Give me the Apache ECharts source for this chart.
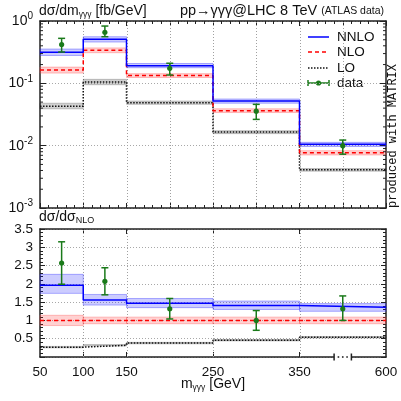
<!DOCTYPE html>
<html>
<head>
<meta charset="utf-8">
<script src="https://cdn.jsdelivr.net/npm/echarts@6/dist/echarts.min.js"></script>
<style>html,body{margin:0;background:#fff}#c{width:401px;height:401px}</style>
</head>
<body>
<div id="c"></div>
<script>
// bin edges [GeV]; the last bin 350-600 is drawn squeezed to 100 GeV width
var edges = [50, 100, 150, 250, 350, 600];

// dsigma/dm [fb/GeV]
var nnlo   = [0.314, 0.508, 0.192, 0.052, 0.0105];
var nnloLo = [0.280, 0.460, 0.178, 0.048, 0.0097];
var nnloHi = [0.355, 0.560, 0.208, 0.056, 0.0113];
var nlo    = [0.164, 0.339, 0.133, 0.0363, 0.0077];
var nloLo  = [0.146, 0.310, 0.124, 0.0340, 0.0071];
var nloHi  = [0.182, 0.370, 0.143, 0.0390, 0.0083];
var lo     = [0.043, 0.105, 0.049, 0.0165, 0.0041];
var loLo   = [0.039, 0.095, 0.046, 0.0156, 0.0039];
var loHi   = [0.048, 0.116, 0.052, 0.0174, 0.0043];
var dat    = [0.42, 0.66, 0.174, 0.0358, 0.0100];
var datLo  = [0.318, 0.56, 0.136, 0.0264, 0.0073];
var datHi  = [0.527, 0.83, 0.210, 0.046, 0.0123];

// ratio to NLO
var rNnlo   = [1.96, 1.56, 1.47, 1.41, 1.36];
var rNnloLo = [1.74, 1.42, 1.35, 1.30, 1.25];
var rNnloHi = [2.26, 1.71, 1.60, 1.53, 1.46];
var rNlo    = [1, 1, 1, 1, 1];
var rNloLo  = [0.86, 0.91, 0.91, 0.91, 0.91];
var rNloHi  = [1.14, 1.09, 1.09, 1.09, 1.09];
var rLo     = [0.27, 0.32, 0.38, 0.46, 0.54];
var rLoLo   = [0.25, 0.30, 0.36, 0.44, 0.52];
var rLoHi   = [0.29, 0.34, 0.40, 0.48, 0.56];
var rDat    = [2.57, 2.07, 1.32, 1.00, 1.32];
var rDatLo  = [1.99, 1.70, 1.04, 0.73, 1.00];
var rDatHi  = [3.15, 2.44, 1.60, 1.27, 1.67];

var xLabels = {50: '50', 100: '100', 150: '150', 250: '250', 350: '350', 450: '600'};
var topGridX = [100, 150, 200, 250, 300, 350, 400];
var lowGridX = [100, 150, 250, 350];

var BLUE = '#0000ff', RED = '#ff0000', GREEN = '#1a7a1a', FRAME = '#222';

function disp(x) { return x <= 350 ? x : 350 + (x - 350) * 100 / 250; }
var dEdges = edges.map(disp);
var centers = dEdges.slice(1).map(function (e, i) { return (e + dEdges[i]) / 2; });

function stepData(v) {
  var pts = v.map(function (y, i) { return [dEdges[i], y]; });
  pts.push([dEdges[dEdges.length - 1], v[v.length - 1]]);
  return pts;
}

function stepLine(v, color, type, g) {
  return {
    type: 'line', xAxisIndex: g * 2, yAxisIndex: g * 2, step: 'end', symbol: 'none',
    data: stepData(v), z: 5, silent: true,
    lineStyle: { color: color, width: 1.5, type: type }
  };
}

function band(l, h, color, edge, g) {
  return {
    type: 'custom', xAxisIndex: g * 2, yAxisIndex: g * 2, z: 2, silent: true,
    data: l.map(function (v, i) { return [dEdges[i], dEdges[i + 1], v, h[i]]; }),
    encode: { x: [0, 1], y: [2, 3] },
    renderItem: function (params, api) {
      var a = api.coord([api.value(0), api.value(3)]);
      var b = api.coord([api.value(1), api.value(2)]);
      return { type: 'rect', shape: { x: a[0], y: a[1], width: b[0] - a[0], height: b[1] - a[1] },
        style: { fill: color, stroke: edge, lineWidth: 0.8 } };
    }
  };
}

function errBars(v, l, h, g) {
  return {
    type: 'custom', xAxisIndex: g * 2, yAxisIndex: g * 2, z: 8, silent: true,
    data: v.map(function (y, i) { return [centers[i], y, l[i], h[i]]; }),
    encode: { x: 0, y: [1, 2, 3] },
    renderItem: function (params, api) {
      var c = api.coord([api.value(0), api.value(1)]);
      var b = api.coord([api.value(0), api.value(2)]);
      var t = api.coord([api.value(0), api.value(3)]);
      var st = { stroke: GREEN, lineWidth: 1.5 };
      return { type: 'group', children: [
        { type: 'line', shape: { x1: c[0], y1: t[1], x2: c[0], y2: b[1] }, style: st },
        { type: 'line', shape: { x1: c[0] - 3.5, y1: t[1], x2: c[0] + 3.5, y2: t[1] }, style: st },
        { type: 'line', shape: { x1: c[0] - 3.5, y1: b[1], x2: c[0] + 3.5, y2: b[1] }, style: st },
        { type: 'circle', shape: { cx: c[0], cy: c[1], r: 2.6 }, style: { fill: GREEN } }
      ] };
    }
  };
}

// dotted vertical grid lines, drawn through the x scale (as short dot segments)
function vGrid(xs, g) {
  var yMid = g ? 1 : 0.1;
  return {
    type: 'custom', xAxisIndex: g * 2, yAxisIndex: g * 2, z: 1, silent: true, clip: false,
    data: xs.map(function (x) { return [x, yMid]; }), encode: { x: 0, y: 1 },
    renderItem: function (params, api) {
      var x = Math.round(api.coord([api.value(0), api.value(1)])[0]);
      var cs = params.coordSys;
      var ch = [];
      for (var y = cs.y + 1; y < cs.y + cs.height; y += 3) {
        ch.push({ type: 'rect', shape: { x: x, y: Math.round(y), width: 1, height: 1 }, style: { fill: '#a0a0a0' } });
      }
      return { type: 'group', children: ch };
    }
  };
}

// log minor ticks (2..9 per decade) on both sides of the upper panel
var logMinor = [];
[0.001, 0.01, 0.1].forEach(function (d) {
  for (var k = 2; k <= 9; k++) logMinor.push([50, k * d]);
});
var minorSeries = {
  type: 'custom', xAxisIndex: 0, yAxisIndex: 0, silent: true, z: 10, clip: false,
  data: logMinor, encode: { x: 0, y: 1 },
  renderItem: function (params, api) {
    var y = api.coord([50, api.value(1)])[1];
    var cs = params.coordSys;
    var st = { stroke: FRAME, lineWidth: 1 };
    return { type: 'group', children: [
      { type: 'line', shape: { x1: cs.x, y1: y, x2: cs.x + 3, y2: y }, style: st },
      { type: 'line', shape: { x1: cs.x + cs.width - 3, y1: y, x2: cs.x + cs.width, y2: y }, style: st }
    ] };
  }
};

// axis break marker on the lower x axis
var breakSeries = {
  type: 'custom', xAxisIndex: 2, yAxisIndex: 2, silent: true, z: 10, clip: false,
  data: [[390, 410, 1]], encode: { x: [0, 1], y: 2 },
  renderItem: function (params, api) {
    var a = api.coord([api.value(0), 1]);
    var b = api.coord([api.value(1), 1]);
    var y = params.coordSys.y + params.coordSys.height;
    var st = { stroke: FRAME, lineWidth: 1.5 };
    var ch = [
      { type: 'rect', shape: { x: a[0], y: y - 2, width: b[0] - a[0], height: 4 }, style: { fill: '#fff' } },
      { type: 'line', shape: { x1: a[0], y1: y - 3.5, x2: a[0], y2: y + 3.5 }, style: st },
      { type: 'line', shape: { x1: b[0], y1: y - 3.5, x2: b[0], y2: y + 3.5 }, style: st }
    ];
    for (var k = 1; k <= 3; k++) {
      var x = a[0] + (b[0] - a[0]) * k / 4;
      ch.push({ type: 'rect', shape: { x: x - 0.8, y: y - 0.8, width: 1.6, height: 1.6 }, style: { fill: FRAME } });
    }
    return { type: 'group', children: ch };
  }
};

var dotted = { show: true, lineStyle: { color: '#a8a8a8', type: [1, 2], width: 1 } };
var axLine = { show: true, onZero: false, lineStyle: { color: FRAME, width: 1.5 } };
var lbl = { fontFamily: 'Liberation Sans', fontSize: 13.5, color: '#111' };

function xAx(g, pos, opts) {
  return Object.assign({
    type: 'value', gridIndex: g, position: pos, min: 50, max: 450, interval: 50,
    axisLine: axLine, axisLabel: { show: false },
    axisTick: { show: true, inside: true, length: 5, lineStyle: { color: FRAME, width: 1 } },
    splitLine: { show: false }
  }, opts);
}

var option = {
  animation: false,
  grid: [
    { left: 40, right: 15, top: 21, height: 187 },
    { left: 40, right: 15, top: 229, height: 128 }
  ],
  xAxis: [
    xAx(0, 'bottom', { minorTick: { show: true, splitNumber: 5, length: 3, lineStyle: { color: FRAME } } }),
    xAx(0, 'top', { minorTick: { show: true, splitNumber: 5, length: 3, lineStyle: { color: FRAME } } }),
    xAx(1, 'bottom', {
      axisTick: { show: true, inside: true, length: 5, customValues: lowGridX, lineStyle: { color: FRAME } },
      axisLabel: Object.assign({ show: true, margin: 8, customValues: [50, 100, 150, 250, 350, 450],
        formatter: function (v) { return xLabels[v] || ''; } }, lbl)
    }),
    xAx(1, 'top', {
      axisTick: { show: true, inside: true, length: 5, customValues: lowGridX, lineStyle: { color: FRAME } }
    })
  ],
  yAxis: [
    {
      type: 'log', gridIndex: 0, position: 'left', min: 0.001, max: 1, logBase: 10,
      axisLine: axLine, splitLine: dotted,
      axisTick: { show: true, inside: true, length: 6, lineStyle: { color: FRAME } },
      axisLabel: {
        margin: 7,
        formatter: function (v) { return '{b|10}{s|' + Math.round(Math.log10(v)) + '}'; },
        rich: {
          b: { fontFamily: 'Liberation Sans', fontSize: 14, color: '#111' },
          s: { fontFamily: 'Liberation Sans', fontSize: 10, color: '#111', padding: [0, 0, 9, 0] }
        }
      }
    },
    {
      type: 'log', gridIndex: 0, position: 'right', min: 0.001, max: 1, logBase: 10,
      axisLine: axLine, splitLine: { show: false }, axisLabel: { show: false },
      axisTick: { show: true, inside: true, length: 6, lineStyle: { color: FRAME } }
    },
    {
      type: 'value', gridIndex: 1, position: 'left', min: 0, max: 3.5, interval: 0.5,
      axisLine: axLine, splitLine: dotted,
      axisTick: { show: true, inside: true, length: 5, lineStyle: { color: FRAME } },
      minorTick: { show: true, splitNumber: 5, length: 3, lineStyle: { color: FRAME } },
      axisLabel: Object.assign({ margin: 7, formatter: function (v) { return v === 0 ? '' : String(v); } }, lbl)
    },
    {
      type: 'value', gridIndex: 1, position: 'right', min: 0, max: 3.5, interval: 0.5,
      axisLine: axLine, splitLine: { show: false }, axisLabel: { show: false },
      axisTick: { show: true, inside: true, length: 5, lineStyle: { color: FRAME } },
      minorTick: { show: true, splitNumber: 5, length: 3, lineStyle: { color: FRAME } }
    }
  ],
  series: [
    vGrid(topGridX, 0),
    vGrid(lowGridX, 1),
    band(loLo, loHi, 'rgba(0,0,0,0.18)', 'rgba(0,0,0,0.25)', 0),
    band(nloLo, nloHi, 'rgba(255,0,0,0.18)', 'rgba(255,80,80,0.45)', 0),
    band(nnloLo, nnloHi, 'rgba(0,0,255,0.20)', 'rgba(60,60,255,0.5)', 0),
    stepLine(lo, '#111', [1.5, 1.5], 0),
    stepLine(nlo, RED, [4, 3], 0),
    stepLine(nnlo, BLUE, 'solid', 0),
    errBars(dat, datLo, datHi, 0),
    band(rLoLo, rLoHi, 'rgba(0,0,0,0.18)', 'rgba(0,0,0,0.25)', 1),
    band(rNloLo, rNloHi, 'rgba(255,0,0,0.18)', 'rgba(255,80,80,0.45)', 1),
    band(rNnloLo, rNnloHi, 'rgba(0,0,255,0.20)', 'rgba(60,60,255,0.5)', 1),
    stepLine(rLo, '#111', [1.5, 1.5], 1),
    stepLine(rNlo, RED, [4, 3], 1),
    stepLine(rNnlo, BLUE, 'solid', 1),
    errBars(rDat, rDatLo, rDatHi, 1),
    minorSeries,
    breakSeries
  ],
  graphic: [
    { type: 'text', x: 39, y: 11, style: { text: 'dσ/dm{sub|γγγ} [fb/GeV]', verticalAlign: 'middle',
      font: '14px "Liberation Sans"', fill: '#111',
      rich: { sub: { fontFamily: 'Liberation Sans', fontSize: 8.5, fill: '#111', padding: [7, 0, 0, 0] } } } },
    { type: 'text', x: 384, y: 11, style: { text: 'pp→γγγ@LHC 8 TeV {s|(ATLAS data)}', align: 'right', verticalAlign: 'middle',
      font: '14.5px "Liberation Sans"', fill: '#111',
      rich: { s: { fontFamily: 'Liberation Sans', fontSize: 10.5, fill: '#111' } } } },
    { type: 'text', x: 39, y: 217, style: { text: 'dσ/dσ{sub|NLO}', verticalAlign: 'middle',
      font: '14px "Liberation Sans"', fill: '#111',
      rich: { sub: { fontFamily: 'Liberation Sans', fontSize: 9, fill: '#111', padding: [7, 0, 0, 0] } } } },
    { type: 'text', x: 213, y: 384, style: { text: 'm{sub|γγγ} [GeV]', align: 'center', verticalAlign: 'middle',
      font: '14px "Liberation Sans"', fill: '#111',
      rich: { sub: { fontFamily: 'Liberation Sans', fontSize: 8.5, fill: '#111', padding: [7, 0, 0, 0] } } } },
    { type: 'text', x: 393, y: 136, rotation: Math.PI / 2, style: { text: 'produced with MATRIX', align: 'center', verticalAlign: 'middle',
      font: '12px "Liberation Mono"', fill: '#111' } },
    // legend
    { type: 'line', shape: { x1: 308, y1: 37, x2: 329, y2: 37 }, style: { stroke: BLUE, lineWidth: 1.5 } },
    { type: 'line', shape: { x1: 308, y1: 52, x2: 329, y2: 52 }, style: { stroke: RED, lineWidth: 1.5, lineDash: [4, 3] } },
    { type: 'line', shape: { x1: 308, y1: 68, x2: 329, y2: 68 }, style: { stroke: '#111', lineWidth: 1.5, lineDash: [1.5, 1.5] } },
    { type: 'line', shape: { x1: 308, y1: 83, x2: 329, y2: 83 }, style: { stroke: GREEN, lineWidth: 1.5 } },
    { type: 'line', shape: { x1: 308, y1: 80, x2: 308, y2: 86 }, style: { stroke: GREEN, lineWidth: 1.5 } },
    { type: 'line', shape: { x1: 329, y1: 80, x2: 329, y2: 86 }, style: { stroke: GREEN, lineWidth: 1.5 } },
    { type: 'circle', shape: { cx: 318.5, cy: 83, r: 2.6 }, style: { fill: GREEN } },
    { type: 'text', x: 337, y: 37, style: { text: 'NNLO', verticalAlign: 'middle', font: '13.5px "Liberation Sans"', fill: '#111' } },
    { type: 'text', x: 337, y: 52, style: { text: 'NLO', verticalAlign: 'middle', font: '13.5px "Liberation Sans"', fill: '#111' } },
    { type: 'text', x: 337, y: 68, style: { text: 'LO', verticalAlign: 'middle', font: '13.5px "Liberation Sans"', fill: '#111' } },
    { type: 'text', x: 337, y: 83, style: { text: 'data', verticalAlign: 'middle', font: '13.5px "Liberation Sans"', fill: '#111' } }
  ]
};

var chart = echarts.init(document.getElementById('c'), null, { renderer: 'canvas' });
chart.setOption(option);
</script>
</body>
</html>
